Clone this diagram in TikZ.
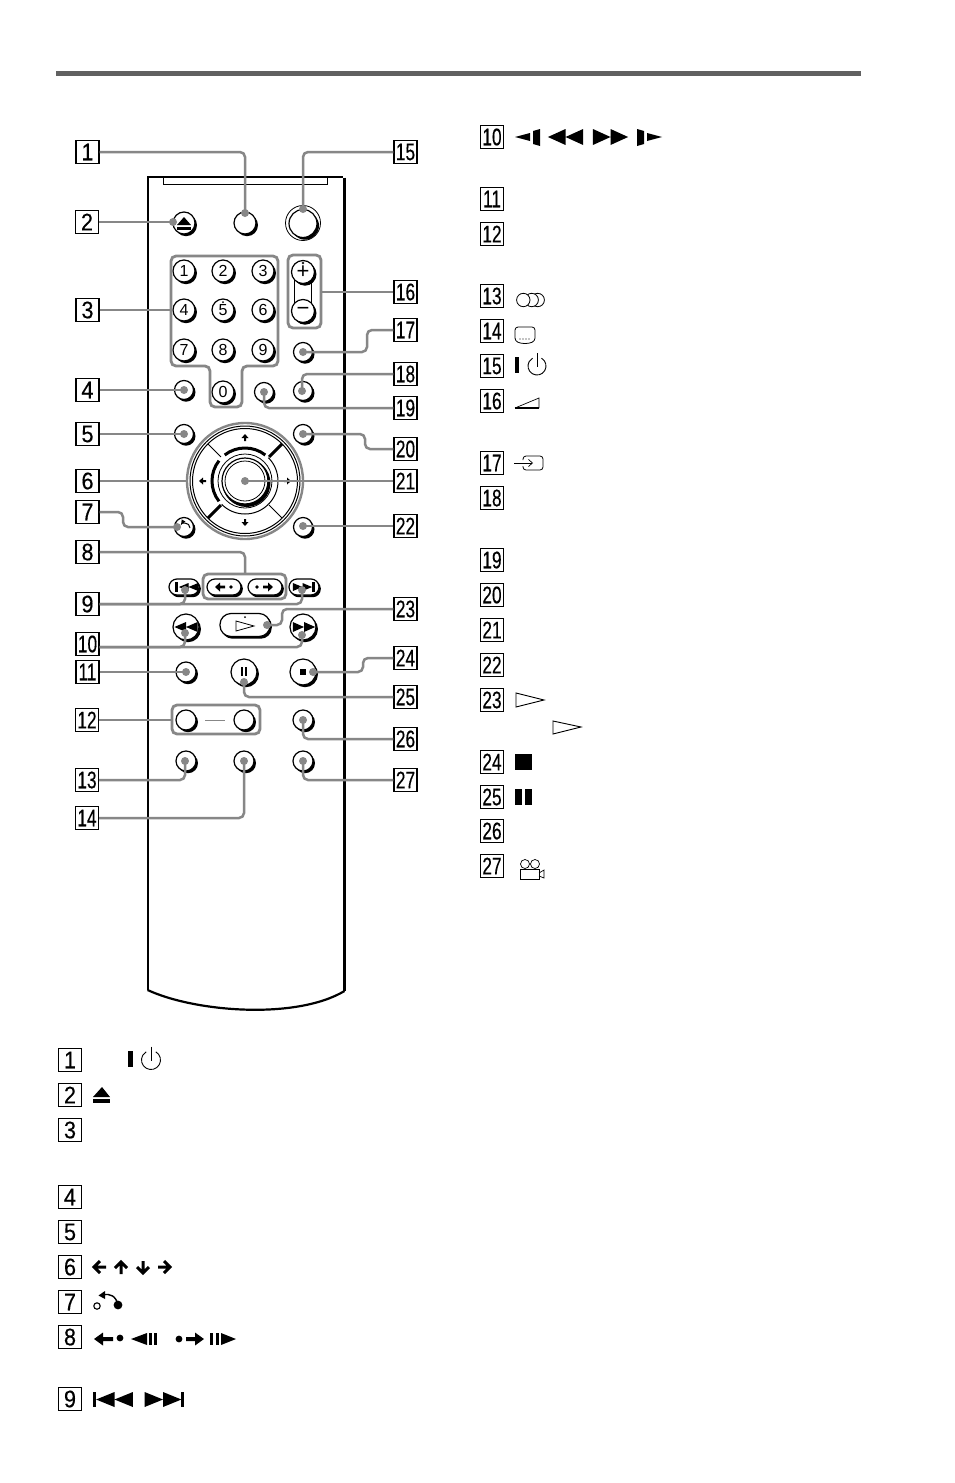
\documentclass[tikz,border=0pt]{standalone}
\usepackage{fontspec}
\usepackage{graphicx}
\usetikzlibrary{arrows.meta}
\setmainfont{Liberation Sans}
\newfontfamily\labfont[FakeBold=0.35]{Liberation Sans}
\definecolor{conngray}{gray}{0.53}
\definecolor{rulegray}{gray}{0.38}
\tikzset{
  lab/.style={draw=black,line width=1.1pt,fill=white,minimum size=23pt,inner sep=0pt,font=\labfont\fontsize{24}{24}\selectfont},
  conn/.style={draw=conngray,line width=2.5pt,rounded corners=5pt},
  grp/.style={draw=conngray,line width=2.8pt,rounded corners=5pt},
  cdot/.style={circle,fill=conngray,minimum size=8pt,inner sep=0pt},
  btn/.style={circle,draw=black,fill=white,line width=1.2pt,inner sep=0pt,font=\fontsize{16}{16}\selectfont},
  pillb/.style={draw=black,fill=white,line width=1.2pt,inner sep=0pt},
}
% round button with shadow: name, x, y, radius, text
\newcommand\rbtn[5]{%
  \fill[black] ([shift={(2,2.2)}]#2,#3) circle (#4);
  \node[btn,minimum size=#4*2pt] (#1) at (#2,#3) {#5};}
% pill: name, x, y, w, h, radius
\newcommand\rpill[6]{%
  \fill[black,rounded corners=#6pt] (#2-#4/2+1.5,#3-#5/2+1.5) rectangle (#2+#4/2+1.8,#3+#5/2+2.2);
  \node[pillb,rounded corners=#6pt,minimum width=#4pt,minimum height=#5pt] (#1) at (#2,#3) {};}
\newcommand\lbl[4]{\node[lab] (#1) at (#2,#3) {\scalebox{#4}[1]{\lbltext{#1}}};}
\makeatletter
\newcommand\lbltext[1]{\@lbltxt#1\@nil}
\def\@lbltxt#1#2#3\@nil{#3}
\makeatother
% two triangles
\newcommand\twotri[4]{\begin{scope}[shift={(#1,#2)},xscale=#3,yscale=#4]
  \fill (-8,-5)--(0,0)--(-8,5)--cycle (0,-5)--(8,0)--(0,5)--cycle;\end{scope}}
% power symbol
\newcommand\powersym[3]{\draw[line width=0.9pt] (#1,#2) ++(-60:#3) arc[start angle=-60,end angle=240,radius=#3];
  \draw[line width=0.9pt] (#1,#2-#3-4) -- (#1,#2+1);}
\begin{document}
\begin{tikzpicture}[x=1pt,y=-1pt]
\useasboundingbox (0,0) rectangle (954,1483);
\fill[white] (0,0) rectangle (954,1483);
% top rule
\fill[rulegray] (56,71) rectangle (861,76);
% remote body
\draw[line width=1.4pt] (148,990) -- (148,177) -- (343,177);
\draw[line width=3pt] (344,177.5) -- (344,991);
\draw[line width=2.2pt] (147.6,990) .. controls (195,1012) and (296,1020) .. (344.5,991);
\draw[line width=0.8pt] (163,178) -- (163,184) -- (327,184) -- (327,178);
% buttons, top
\rbtn{b2}{184}{223}{11}{}
\rbtn{b1}{245}{223}{11}{}
\draw[line width=0.8pt] (303,223) circle (17.5);
\rbtn{b15}{303}{223.5}{14}{}
% eject icon
\fill (177,225) -- (184,217) -- (191,225) -- cycle;
\fill (177,227) rectangle (191,229.5);
% numbers
\rbtn{n1}{184}{271}{11}{1}
\rbtn{n2}{223}{271}{11}{2}
\rbtn{n3}{263}{271}{11}{3}
\rbtn{n4}{184}{310}{11}{4}
\rbtn{n5}{223}{310}{11}{\raisebox{-2pt}{5}}
\fill (223,302) circle (1);
\rbtn{n6}{263}{310}{11}{6}
\rbtn{n7}{184}{350}{11}{7}
\rbtn{n8}{223}{350}{11}{8}
\rbtn{n9}{263}{350}{11}{9}
\rbtn{n0}{223}{392}{11}{0}
% volume
\draw[line width=0.9pt] (294,272) rectangle (311,311);
\rbtn{vp}{303}{272}{11.5}{\fontsize{22}{22}\selectfont\raisebox{-1.5pt}{+}}
\draw[line width=0.5pt] (303,263) circle (1);
\rbtn{vm}{303}{311}{11.5}{\fontsize{22}{22}\selectfont −}
% small buttons
\rbtn{b17}{303}{352}{9.5}{}
\rbtn{b18}{303}{391}{9.5}{}
\rbtn{b19}{264}{392}{9.5}{}
\rbtn{b4}{184}{390}{9.5}{}
\rbtn{b5}{184}{434}{9.5}{}
\rbtn{b20}{303}{434}{9.5}{}
\rbtn{b7}{184}{527}{9.5}{}
\rbtn{b22}{303}{527}{9.5}{}
% return icon in 7
\draw[line width=1pt,-latex] (190,528) arc[start angle=0,end angle=-150,radius=5];
% d-pad
\draw[line width=2.4pt,conngray] (245,481) circle (58);
\draw[line width=1pt] (245,481) circle (55);
\draw[line width=1pt] (245,481) circle (52.5);
\coordinate (pc) at (245,481);
\draw[line width=3pt] ([shift={(-45:34)}]pc) -- ([shift={(-45:52)}]pc);
\draw[line width=3pt] ([shift={(135:34)}]pc) -- ([shift={(135:52)}]pc);
\draw[line width=1pt] ([shift={(45:34)}]pc) -- ([shift={(45:52)}]pc);
\draw[line width=1pt] ([shift={(-135:34)}]pc) -- ([shift={(-135:52)}]pc);
\draw[line width=3pt] ([shift={(232:33)}]pc) arc[start angle=232,end angle=308,radius=33];
\draw[line width=3pt] ([shift={(142:33)}]pc) arc[start angle=142,end angle=218,radius=33];
\draw[line width=1pt] ([shift={(-45:33)}]pc) arc[start angle=-45,end angle=45,radius=33];
\draw[line width=1pt] ([shift={(45:33)}]pc) arc[start angle=45,end angle=135,radius=33];
\draw[line width=0.8pt] (pc) circle (27);
\fill[black] ([shift={(1.5,2)}]pc) circle (24);
\node[btn,minimum size=46pt] (b21) at (pc) {};
\draw[line width=0.8pt] (pc) circle (20);
% d-pad arrows
\fill (245,434) -- (248.5,438) -- (246,438) -- (246,441) -- (244,441) -- (244,438) -- (241.5,438) -- cycle;
\fill (245,526) -- (248.5,522) -- (246,522) -- (246,519) -- (244,519) -- (244,522) -- (241.5,522) -- cycle;
\fill (199,481) -- (203,477.5) -- (203,480) -- (206,480) -- (206,482) -- (203,482) -- (203,484.5) -- cycle;
\fill (291,481) -- (287,477.5) -- (287,480) -- (284,480) -- (284,482) -- (287,482) -- (287,484.5) -- cycle;
% transport
\rpill{p8a}{224}{587}{34}{16}{8}
\rpill{p8b}{265}{587}{34}{16}{8}
\rpill{p9a}{184}{587}{30}{16}{8}
\rpill{p9b}{304}{587}{30}{16}{8}
\twotri{188.5}{587}{-1.2}{0.8}
\fill (175,582) rectangle (178,592);
\twotri{302.5}{587}{1.2}{0.8}
\fill (312,582) rectangle (315,592);
\fill (215,587) -- (220,582.5) -- (220,585.6) -- (225,585.6) -- (225,588.4) -- (220,588.4) -- (220,591.5) -- cycle;
\fill (231,587) circle (1.8);
\fill (257,587) circle (1.8);
\fill (273,587) -- (268,582.5) -- (268,585.6) -- (263,585.6) -- (263,588.4) -- (268,588.4) -- (268,591.5) -- cycle;
\rbtn{b10a}{186}{627}{13}{}
\rbtn{b10b}{303}{627}{13}{}
\twotri{186}{627}{-1.45}{1}
\twotri{304}{627}{1.4}{1}
\rpill{b23}{245}{625}{50}{23}{11}
\draw[line width=0.8pt] (236,621) -- (254,626) -- (236,631) -- cycle;
\fill (245,617) circle (1);
\rbtn{b11}{186}{672}{10}{}
\rbtn{b25}{244}{672}{13}{}
\rbtn{b24}{303}{672}{13}{}
\fill (241,667) rectangle (243.2,676);
\fill (244.8,667) rectangle (247,676);
\fill (300,669) rectangle (306,675);
% bottom buttons
\rbtn{b12a}{186}{720}{10}{}
\rbtn{b12b}{244}{720}{10}{}
\draw[conngray,line width=1pt] (205,720) -- (225,720);
\rbtn{b26}{303}{720}{10}{}
\rbtn{b13}{186}{761}{10}{}
\rbtn{b14}{244}{761}{10}{}
\rbtn{b27}{303}{761}{10}{}
% groups
\draw[grp] (171,256) -- (278,256) -- (278,366) -- (242,366) -- (242,407) -- (210,407) -- (210,366) -- (171,366) -- cycle;
\draw[grp] (288,255) rectangle (321,328);
\draw[grp] (203,574) rectangle (286,599);
\draw[grp] (172,705) rectangle (260,734);
\coordinate (g3) at (171,310);
\coordinate (g16) at (321,292);
\coordinate (g8) at (245,574);
\coordinate (g12) at (172,720);
\coordinate (g6) at (187,481);
% labels, remote left
\lbl{L-1}{87.5}{152}{0.9}
\lbl{L-2}{87}{222}{0.9}
\lbl{L-3}{87.5}{310}{0.9}
\lbl{L-4}{87.5}{390}{0.9}
\lbl{L-5}{87.5}{434}{0.9}
\lbl{L-6}{87.5}{481}{0.9}
\lbl{L-7}{87.5}{512}{0.9}
\lbl{L-8}{87.5}{552}{0.9}
\lbl{L-9}{87.5}{604}{0.9}
\lbl{L-10}{87.5}{644}{0.72}
\lbl{L-11}{87.5}{672}{0.72}
\lbl{L-12}{87}{720}{0.72}
\lbl{L-13}{87}{780}{0.72}
\lbl{L-14}{87}{818}{0.72}
% labels, remote right
\lbl{L-15}{405.5}{152}{0.72}
\lbl{L-16}{405.5}{292}{0.72}
\lbl{L-17}{405.5}{330}{0.72}
\lbl{L-18}{405.5}{374}{0.72}
\lbl{L-19}{405.5}{408}{0.72}
\lbl{L-20}{405.5}{449}{0.72}
\lbl{L-21}{405.5}{481}{0.72}
\lbl{L-22}{405.5}{526}{0.72}
\lbl{L-23}{405.5}{609}{0.72}
\lbl{L-24}{405.5}{658}{0.72}
\lbl{L-25}{405.5}{697}{0.72}
\lbl{L-26}{405.5}{739}{0.72}
\lbl{L-27}{405.5}{780}{0.72}
% connector ends
\node[cdot] (d1) at (245,213) {};
\node[cdot] (d2) at (173,222) {};
\node[cdot] (d15) at (303,209) {};
\node[cdot] (d17) at (303,352) {};
\node[cdot] (d18) at (302,391) {};
\node[cdot] (d19) at (264,392) {};
\node[cdot] (d4) at (184,390) {};
\node[cdot] (d5) at (184,434) {};
\node[cdot] (d20) at (303,434) {};
\node[cdot] (d21) at (245,481) {};
\node[cdot] (d7) at (177,527) {};
\node[cdot] (d22) at (303,526) {};
\node[cdot] (d9a) at (185,590) {};
\node[cdot] (d9b) at (302,590) {};
\node[cdot] (d23) at (267,625) {};
\node[cdot] (d10a) at (185,633) {};
\node[cdot] (d10b) at (302,635) {};
\node[cdot] (d11) at (186,672) {};
\node[cdot] (d24) at (313,672) {};
\node[cdot] (d25) at (244,682) {};
\node[cdot] (d26) at (303,720) {};
\node[cdot] (d27) at (303,761) {};
\node[cdot] (d13) at (185,761) {};
\node[cdot] (d14) at (244,761) {};
% connectors
\draw[conn] (L-1.east) -| (d1.center);
\draw[conn] (L-2.east) -- (d2.center);
\draw[conn] (L-3.east) -- (g3);
\draw[conn] (L-4.east) -- (d4.center);
\draw[conn] (L-5.east) -- (d5.center);
\draw[conn] (L-6.east) -- (g6);
\draw[conn] (L-7.east) -- (123,512) |- (d7.center);
\draw[conn] (L-8.east) -| (g8);
\draw[conn] (L-9.east) -| (d9a.center);
\draw[conn] (L-9.east) -| (d9b.center);
\draw[conn] ([shift={(0,3)}]L-10.east) -| (d10a.center);
\draw[conn] ([shift={(0,3)}]L-10.east) -| (d10b.center);
\draw[conn] (L-11.east) -- (d11.center);
\draw[conn] (L-12.east) -- (g12);
\draw[conn] (L-13.east) -| (d13.center);
\draw[conn] (L-14.east) -| (d14.center);
\draw[conn] (L-15.west) -| (d15.center);
\draw[conn] (L-16.west) -- (g16);
\draw[conn] (L-17.west) -- (367,330) |- (d17.center);
\draw[conn] (L-18.west) -| (d18.center);
\draw[conn] (L-19.west) -| (d19.center);
\draw[conn] (L-20.west) -- (365,449) |- (d20.center);
\draw[conn] (L-21.west) -- (d21.center);
\draw[conn] (L-22.west) -- (d22.center);
\draw[conn] (L-23.west) -- (282,609) |- (d23.center);
\draw[conn] (L-24.west) -- (363,658) |- (d24.center);
\draw[conn] (L-25.west) -| (d25.center);
\draw[conn] (L-26.west) -| (d26.center);
\draw[conn] (L-27.west) -| (d27.center);
% right column labels
\lbl{R-10}{492}{137}{0.72}
\lbl{R-11}{492}{199}{0.72}
\lbl{R-12}{492}{234}{0.72}
\lbl{R-13}{492}{296}{0.72}
\lbl{R-14}{492}{331}{0.72}
\lbl{R-15}{492}{366}{0.72}
\lbl{R-16}{492}{401}{0.72}
\lbl{R-17}{492}{463}{0.72}
\lbl{R-18}{492}{498}{0.72}
\lbl{R-19}{492}{560}{0.72}
\lbl{R-20}{492}{595}{0.72}
\lbl{R-21}{492}{630}{0.72}
\lbl{R-22}{492}{665}{0.72}
\lbl{R-23}{492}{700}{0.72}
\lbl{R-24}{492}{762}{0.72}
\lbl{R-25}{492}{797}{0.72}
\lbl{R-26}{492}{831}{0.72}
\lbl{R-27}{492}{866}{0.72}
% bottom labels
\lbl{B-1}{70}{1060}{0.9}
\lbl{B-2}{70}{1095}{0.9}
\lbl{B-3}{70}{1130}{0.9}
\lbl{B-4}{70}{1197}{0.9}
\lbl{B-5}{70}{1232}{0.9}
\lbl{B-6}{70}{1267}{0.9}
\lbl{B-7}{70}{1302}{0.9}
\lbl{B-8}{70}{1337}{0.9}
\lbl{B-9}{70}{1399}{0.9}
% symbols right column
\fill (515,137) -- (530,133) -- (530,141) -- cycle;
\fill (533,131) -- (540,129) -- (540,146) -- (533,144) -- cycle;
\twotri{565.5}{137}{-2.2}{1.6}
\twotri{610.5}{137}{2.2}{1.6}
\fill (637,129) -- (644,131) -- (644,144) -- (637,146) -- cycle;
\fill (662,137) -- (647,133) -- (647,141) -- cycle;
\draw[line width=0.8pt] (537.7,300) circle (6.7);
\draw[line width=0.8pt,fill=white] (531.7,300) circle (6.7);
\draw[line width=0.8pt,fill=white] (523.3,300) circle (6.7);
\draw[line width=0.8pt,rounded corners=3pt] (515,327) -- (535,327) -- (535,341) .. controls (528,344) and (522,344) .. (515,341) -- cycle;
\foreach \xx in {520,523,526,529} {\fill (\xx,339) circle (0.6);}
\fill (515,357) rectangle (519,373);
\powersym{537}{366}{9}
\draw[line width=0.7pt] (515,408) -- (539,398) -- (539,408);
\draw[line width=1.4pt] (515,408) -- (539,408);
\draw[line width=0.8pt,rounded corners=3pt] (523,460) -- (523,456) -- (543,456) -- (543,470) -- (523,470) -- (523,466);
\draw[line width=0.7pt,-{Straight Barb[length=4pt,width=7pt]}] (514,463) -- (533,463);
\draw[line width=0.9pt] (516,693) -- (544,700) -- (516,707) -- cycle;
\draw[line width=0.9pt] (553,721) -- (581,727) -- (553,734) -- cycle;
\fill (515,754) rectangle (532,770);
\fill (515,789) rectangle (522,805);
\fill (525,789) rectangle (532,805);
\draw[line width=0.7pt] (525,864) circle (4.5) (535,864) circle (4.5);
\draw[line width=0.9pt] (520,869) rectangle (539,879);
\draw[line width=0.7pt] (539,873) -- (544,870) -- (544,878) -- (539,876);
% symbols bottom
\fill (128,1051) rectangle (133,1067);
\powersym{151}{1060}{9.5}
\fill (93,1097) -- (102,1087) -- (110,1097) -- cycle;
\fill (93,1099) rectangle (110,1103);
\begin{scope}[line width=3pt]
\draw (106,1267) -- (94,1267) (100,1261) -- (94,1267) -- (100,1273);
\draw (121,1274) -- (121,1262) (115,1268) -- (121,1262) -- (127,1268);
\draw (143,1261) -- (143,1273) (137,1267) -- (143,1273) -- (149,1267);
\draw (158,1267) -- (170,1267) (164,1261) -- (170,1267) -- (164,1273);
\end{scope}
\draw[line width=1.1pt] (97,1306) circle (3.2);
\fill (118,1305) circle (4.4);
\draw[line width=1.4pt] (118,1305) .. controls (116,1296) and (110,1293) .. (103,1295);
\fill (98.5,1295.5) -- (105,1291) -- (105,1299) -- cycle;
\fill (94,1339) -- (103,1332.5) -- (103,1337) -- (113,1337) -- (113,1341) -- (103,1341) -- (103,1345.5) -- cycle;
\fill (120,1338) circle (3.4);
\fill (131,1339) -- (147,1333) -- (147,1345) -- cycle;
\fill (149,1333) rectangle (152,1345);
\fill (154,1333) rectangle (157,1345);
\fill (179,1339) circle (3.4);
\fill (204,1339) -- (195,1332.5) -- (195,1337) -- (186,1337) -- (186,1341) -- (195,1341) -- (195,1345.5) -- cycle;
\fill (210,1333) rectangle (213,1345);
\fill (216,1333) rectangle (218.5,1345);
\fill (236,1339) -- (221,1333) -- (221,1345) -- cycle;
\fill (93,1392) rectangle (96,1407);
\twotri{114.5}{1399.5}{-2.3}{1.5}
\twotri{163}{1399.5}{2.3}{1.5}
\fill (181,1392) rectangle (184,1407);
\end{tikzpicture}
\end{document}
